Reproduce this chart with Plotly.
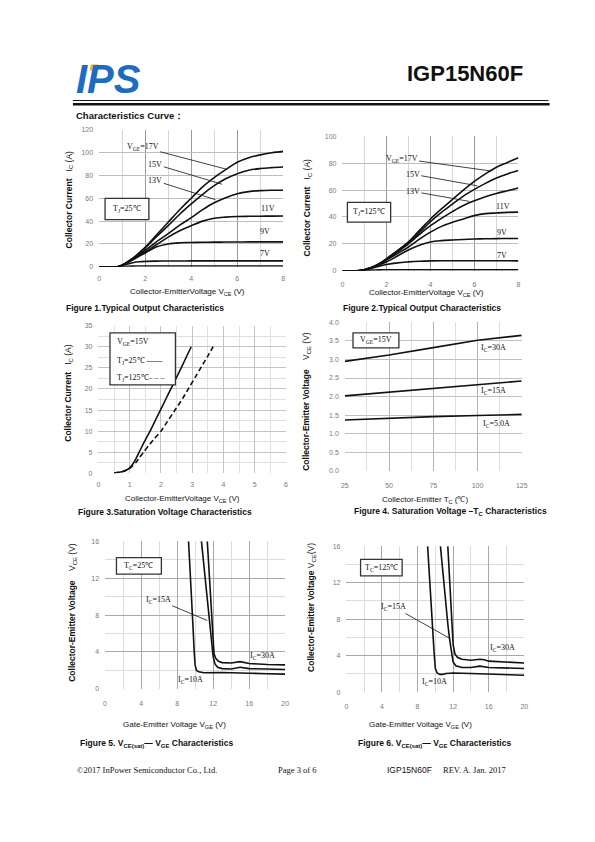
import plotly.graph_objects as go

# page is drawn inside the browser's default 8px body margin
OFF = 8
W, H = 595 - 2 * OFF, 842 - 2 * OFF

# ---------------- DATA ----------------
# Figure 1: typical output characteristics, Tj = 25 C
vce_out = [0, 0.5, 0.8, 1.0, 1.25, 1.5, 1.75, 2.0, 2.5, 3.0, 3.5, 4.0, 4.5, 5.0, 5.5, 6.0, 6.5, 7.0, 7.5, 8.0]
f1_17v = [0, 0, 0.1, 1.5, 4.5, 8, 12.5, 17, 28, 39, 50, 60, 70, 78, 85, 91.5, 95.5, 98, 99.8, 101]
f1_15v = [0, 0, 0.1, 1.5, 4.5, 8, 12, 16.5, 26.5, 36, 46, 55, 63.5, 71, 77, 81.5, 84.5, 86, 86.8, 87.3]
f1_13v = [0, 0, 0.1, 1.5, 4.3, 7.5, 11, 14.5, 22, 29, 36.5, 43, 50, 56, 60.5, 64, 65.8, 66.7, 67, 67]
f1_11v = [0, 0, 0.1, 1.4, 4, 7, 10, 13, 19.5, 26, 31.5, 36, 40, 42.5, 43.5, 44, 44.2, 44.3, 44.4, 44.5]
f1_9v = [0, 0, 0.1, 1.3, 3.8, 6.5, 9.5, 12, 17.5, 20, 21, 21.3, 21.5, 21.6, 21.7, 21.7, 21.8, 21.8, 21.8, 21.8]
f1_7v = [0, 0, 0.1, 1.0, 2.5, 3.8, 4.5, 4.8, 5, 5.1, 5.1, 5.2, 5.2, 5.2, 5.2, 5.2, 5.2, 5.2, 5.2, 5.2]
f1_5v = [0, 0, 0.1, 0.3, 0.5, 0.6, 0.7, 0.7, 0.7, 0.7, 0.7, 0.7, 0.7, 0.7, 0.7, 0.7, 0.7, 0.7, 0.7, 0.7]

# Figure 2: typical output characteristics, Tj = 125 C
f2_17v = [0, 0, 0.2, 0.8, 2, 3.8, 6, 9, 15, 21.5, 30, 38.5, 46, 53, 60, 66.5, 72, 77, 80.5, 84]
f2_15v = [0, 0, 0.2, 0.8, 2, 3.8, 6, 8.7, 14.8, 21, 28.5, 36.5, 43.5, 49.5, 55.5, 60.5, 65, 69, 72, 74.5]
f2_13v = [0, 0, 0.2, 0.8, 2, 3.7, 5.8, 8.4, 14, 20, 27, 33.5, 39, 44, 48.5, 52, 55, 57.5, 59.5, 61.5]
f2_11v = [0, 0, 0.2, 0.8, 2, 3.6, 5.6, 7.9, 12.8, 17.7, 23.5, 28.7, 33, 36, 38.5, 41, 42.5, 43, 43.4, 43.6]
f2_9v = [0, 0, 0.2, 0.8, 1.9, 3.3, 4.9, 6.6, 11, 15.5, 19, 21.4, 22.4, 22.9, 23.3, 23.6, 23.8, 23.9, 24, 24]
f2_7v = [0, 0, 0.2, 0.7, 1.6, 2.7, 3.8, 4.7, 5.9, 6.6, 7.1, 7.4, 7.5, 7.5, 7.5, 7.5, 7.5, 7.5, 7.5, 7.4]
f2_5v = [0, 0, 0.1, 0.3, 0.5, 0.6, 0.7, 0.8, 0.8, 0.8, 0.8, 0.8, 0.8, 0.8, 0.8, 0.8, 0.8, 0.8, 0.8, 0.8]

# Figure 3: saturation voltage characteristics, VGE = 15 V
f3_vce_25 = [0.5, 0.6, 0.7, 0.8, 0.9, 1.0, 1.1, 1.2, 1.3, 1.45, 1.65, 1.85, 2.05, 2.25, 2.45, 2.65, 2.82, 2.97]
f3_ic_25 = [0.1, 0.2, 0.3, 0.5, 0.8, 1.3, 2.2, 3.5, 5, 7.2, 10, 13, 16, 19, 22, 25, 27.7, 30]
f3_vce_125 = [0.5, 0.6, 0.7, 0.8, 0.9, 1.0, 1.1, 1.2, 1.3, 1.44, 1.6, 1.8, 2.0, 2.2, 2.45, 2.7, 2.9, 3.1, 3.3, 3.5, 3.67]
f3_ic_125 = [0.1, 0.2, 0.3, 0.5, 0.8, 1.2, 1.8, 2.6, 3.6, 5, 6.5, 8.3, 10, 12.2, 15, 17.8, 20.3, 22.8, 25.3, 27.8, 30]

# Figure 4: saturation voltage vs case temperature
f4_tc = [25, 50, 75, 100, 125]
f4_30a = [2.95, 3.12, 3.32, 3.52, 3.65]
f4_15a = [2.02, 2.12, 2.23, 2.33, 2.42]
f4_5a = [1.37, 1.42, 1.46, 1.49, 1.52]

# Figure 5: VCE(sat) vs VGE, Tc = 25 C
f5_vge_10a = [9.27, 9.45, 9.6, 9.75, 9.9, 10.0, 10.15, 10.4, 11, 12, 13, 14, 15, 16, 18, 20]
f5_vce_10a = [16, 13, 10, 7, 4, 2.6, 2.0, 1.85, 1.75, 1.8, 1.78, 1.75, 1.75, 1.7, 1.65, 1.6]
f5_vge_15a = [10.7, 10.9, 11.1, 11.3, 11.5, 11.7, 11.85, 12.0, 12.2, 12.5, 13, 14, 15, 16, 18, 20]
f5_vce_15a = [16, 14, 12, 10, 8, 6, 4.8, 3.5, 2.7, 2.35, 2.2, 2.15, 2.35, 2.2, 2.15, 2.1]
f5_vge_30a = [11.35, 11.5, 11.65, 11.8, 11.9, 12.0, 12.1, 12.3, 12.6, 13, 14, 15, 15.5, 16, 18, 20]
f5_vce_30a = [16, 13.5, 11, 8.5, 6.5, 5, 3.8, 3.3, 3.0, 2.85, 2.8, 2.95, 2.85, 2.75, 2.65, 2.6]

# Figure 6: VCE(sat) vs VGE, Tc = 125 C
f6_vge_10a = [9.13, 9.3, 9.5, 9.7, 9.85, 10.0, 10.2, 10.5, 10.8, 11.2, 12, 14, 16, 18, 20]
f6_vce_10a = [16, 13, 10, 7, 4.5, 2.6, 2.1, 1.95, 1.95, 2.05, 2.1, 2.05, 2.0, 1.9, 1.85]
f6_vge_15a = [10.57, 10.8, 11.0, 11.2, 11.4, 11.6, 11.8, 12.0, 12.3, 12.7, 13, 14, 15, 16, 18, 20]
f6_vce_15a = [16, 13.5, 11.5, 9.5, 7.5, 5.8, 4.3, 3.3, 2.9, 2.75, 2.7, 2.7, 2.85, 2.7, 2.65, 2.6]
f6_vge_30a = [11.4, 11.55, 11.7, 11.85, 12.0, 12.2, 12.5, 13, 14, 15, 15.5, 16, 18, 20]
f6_vce_30a = [16, 13, 10, 7.5, 5.2, 4.2, 3.8, 3.6, 3.5, 3.6, 3.55, 3.4, 3.3, 3.2]

# ---------------- HELPERS ----------------
def px(x):
    return (x - OFF) / W

def py(y):
    return 1 - (y - OFF) / H

SANS = "Liberation Sans, Arial, sans-serif"
SERIF = "Liberation Serif, Times New Roman, serif"
CURVE = dict(color="#111111", width=1.6)

fig = go.Figure()

def add_lines(pairs, ax_id, shape="linear", dash=None, smoothing=1.0):
    for xv, yv in pairs:
        ln = dict(CURVE)
        if dash:
            ln["dash"] = dash
        if shape == "spline":
            ln["smoothing"] = smoothing
        ln["shape"] = shape
        fig.add_trace(go.Scatter(x=xv, y=yv, mode="lines", line=ln,
                                 xaxis="x" + ax_id, yaxis="y" + ax_id,
                                 showlegend=False, hoverinfo="skip"))

add_lines([(vce_out, s) for s in [f1_17v, f1_15v, f1_13v, f1_11v, f1_9v, f1_7v, f1_5v]], "", "spline")
add_lines([(vce_out, s) for s in [f2_17v, f2_15v, f2_13v, f2_11v, f2_9v, f2_7v, f2_5v]], "2", "spline")
add_lines([(f3_vce_25, f3_ic_25)], "3", "spline", smoothing=0.6)
add_lines([(f3_vce_125, f3_ic_125)], "3", "spline", dash="5px,3px", smoothing=0.6)
add_lines([(f4_tc, f4_30a), (f4_tc, f4_15a), (f4_tc, f4_5a)], "4")
add_lines([(f5_vge_10a, f5_vce_10a), (f5_vge_15a, f5_vce_15a), (f5_vge_30a, f5_vce_30a)], "5")
add_lines([(f6_vge_10a, f6_vce_10a), (f6_vge_15a, f6_vce_15a), (f6_vge_30a, f6_vce_30a)], "6")

TICKFONT = dict(family=SANS, size=7, color="#7a7a7a")

def xax(l, r, rng, dtick, mdtick, gc, mgc, anchor, tick0=0, standoff=6):
    return dict(domain=[px(l), px(r)], range=rng, dtick=dtick, tick0=tick0,
                showgrid=True, gridcolor=gc, gridwidth=1, zeroline=False, showline=False,
                ticks="", tickfont=TICKFONT, ticklabelstandoff=standoff, anchor=anchor,
                minor=dict(dtick=mdtick, tick0=tick0, showgrid=True, gridcolor=mgc, gridwidth=1),
                fixedrange=True)

def yax(t, b, rng, dtick, mdtick, gc, mgc, anchor, fmt=None, standoff=5):
    d = dict(domain=[py(b), py(t)], range=rng, dtick=dtick, tick0=0,
             showgrid=True, gridcolor=gc, gridwidth=1, zeroline=False, showline=False,
             ticks="", tickfont=TICKFONT, ticklabelstandoff=standoff, anchor=anchor,
             fixedrange=True)
    if mdtick:
        d["minor"] = dict(dtick=mdtick, showgrid=True, gridcolor=mgc, gridwidth=1)
    if fmt:
        d["tickformat"] = fmt
    return d

fig.update_layout(
    xaxis=xax(96.7, 284, [0, 8.001], 2, 1, "#9a9a9a", "#d6d6d6", "y", standoff=6),
    yaxis=yax(126.7, 265, [0, 120.01], 20, None, "#bdbdbd", None, "x"),
    xaxis2=xax(344.3, 523.3, [0, 8.001], 2, 1, "#9a9a9a", "#d6d6d6", "y2", standoff=8),
    yaxis2=yax(133.3, 269, [0, 100.01], 20, None, "#bdbdbd", None, "x2"),
    xaxis3=xax(96, 286.7, [0, 6.001], 1, 0.5, "#c4c4c4", "#e0e0e0", "y3", standoff=6),
    yaxis3=yax(324.3, 473.3, [0, 35.01], 5, 2.5, "#c4c4c4", "#e0e0e0", "x3"),
    xaxis4=xax(346.7, 526.7, [25, 125.01], 25, 12.5, "#b4b4b4", "#dedede", "y4", tick0=25, standoff=9),
    yaxis4=yax(321, 470.7, [0, 4.001], 0.5, None, "#c0c0c0", None, "x4", fmt=".1f"),
    xaxis5=xax(102.7, 286, [0, 20.002], 4, 2, "#a8a8a8", "#dcdcdc", "y5", standoff=9),
    yaxis5=yax(541.7, 690.7, [0, 16.002], 4, 2, "#a8a8a8", "#dcdcdc", "x5"),
    xaxis6=xax(348.3, 529.3, [0, 20.002], 4, 2, "#a8a8a8", "#dcdcdc", "y6", standoff=9),
    yaxis6=yax(546.7, 694, [0, 16.002], 4, 2, "#a8a8a8", "#dcdcdc", "x6"),
)

ann = []
shapes = []

def text(x, y, s, size=8, family=SANS, color="#111111", xanchor="center", bold=False, angle=0, italic=False):
    f = dict(family=family, size=size, color=color)
    if bold:
        f["weight"] = "bold"
    if italic:
        f["style"] = "italic"
    ann.append(dict(xref="paper", yref="paper", x=px(x), y=py(y), text=s, showarrow=False,
                    xanchor=xanchor, yanchor="middle", font=f, textangle=angle))

def lead(tx, ty, hx, hy, s, size=8):
    ann.append(dict(xref="paper", yref="paper", x=px(hx), y=py(hy), text=s, showarrow=True,
                    arrowhead=0, arrowwidth=0.8, arrowcolor="#111111", ax=tx - hx, ay=ty - hy,
                    font=dict(family=SERIF, size=size, color="#111111"), standoff=0, startstandoff=0))

def box(x0, y0, x1, y1):
    shapes.append(dict(type="rect", xref="paper", yref="paper", x0=px(x0), x1=px(x1), y0=py(y1), y1=py(y0),
                       line=dict(color="#333333", width=1.3), fillcolor="white", layer="above"))

NB = "\u00a0"

# header
text(106, 76, "IPS", size=40, family="Liberation Sans Narrow, Liberation Sans, sans-serif",
     color="#1e6cc0", bold=True, italic=True)
shapes.append(dict(type="path", xref="paper", yref="paper",
                   path="M {} {} L {} {} L {} {} L {} {} Z".format(px(88.5), py(61), px(96), py(61),
                                                                   px(94.5), py(67), px(87), py(67)),
                   fillcolor="#f5b400", line=dict(width=0), layer="above"))
text(469, 70.5, "IGP15N60F", size=22, bold=True)
shapes.append(dict(type="line", xref="paper", yref="paper", x0=px(70), x1=px(554), y0=py(97.3), y1=py(97.3),
                   line=dict(color="#111111", width=1)))
shapes.append(dict(type="line", xref="paper", yref="paper", x0=px(70), x1=px(555), y0=py(101), y1=py(101),
                   line=dict(color="#111111", width=2.5)))
text(71, 112, "Characteristics Curve：", size=9.5, bold=True, xanchor="left")

# footer
text(72, 772, "©2017 InPower Semiconductor Co., Ltd.", size=8.5, family=SERIF, xanchor="left")
text(277, 772, "Page 3 of 6", size=8.5, family=SERIF, xanchor="left")
text(388, 772, "IGP15N60F", size=8.5, xanchor="left")
text(445, 772, "REV. A. Jan. 2017", size=8.5, family=SERIF, xanchor="left")

# captions
text(61, 307, "Figure 1.Typical Output Characteristics", size=8.5, bold=True, xanchor="left")
text(343, 307, "Figure 2.Typical Output Characteristics", size=8.5, bold=True, xanchor="left")
text(73, 512, "Figure 3.Saturation Voltage Characteristics", size=8.5, bold=True, xanchor="left")
text(354, 512, "Figure 4. Saturation Voltage –T<sub>C</sub> Characteristics", size=8.5, bold=True, xanchor="left")
text(75, 746, "Figure 5. V<sub>CE(sat)</sub>— V<sub>GE</sub> Characteristics", size=8.5, bold=True, xanchor="left")
text(358, 746, "Figure 6. V<sub>CE(sat)</sub>— V<sub>GE</sub> Characteristics", size=8.5, bold=True, xanchor="left")

# axis titles
xt_vce = "Collector-EmitterVoltage V<sub>CE</sub> (V)"
text(186.7, 290.7, xt_vce, size=8)
text(430, 291.7, xt_vce, size=8)
text(181.7, 499, xt_vce, size=8)
text(428.3, 500, "Collector-Emitter T<sub>C</sub> (℃)", size=8)
text(173.3, 726.7, "Gate-Emitter Voltage V<sub>GE</sub> (V)", size=8)
text(423.3, 727.3, "Gate-Emitter Voltage V<sub>GE</sub> (V)", size=8)

yt_ic = "<b>Collector Current</b>" + NB * 3 + "I<sub>C</sub> (A)"
yt_vce = "<b>Collector-Emitter Voltage</b>" + NB * 4 + "V<sub>CE</sub> (V)"
text(66, 197, yt_ic, size=8.5, angle=-90)
text(308.3, 205, yt_ic, size=8.5, angle=-90)
text(66, 392, yt_ic, size=8.5, angle=-90)
text(308.3, 401, yt_vce, size=8.5, angle=-90)
text(70, 613, yt_vce, size=8.5, angle=-90)
text(313.3, 609, "<b>Collector-Emitter Voltage</b> V<sub>CE</sub>(V)", size=8.5, angle=-90)

# figure 1 labels
lead(142.5, 144.5, 226.7, 166.7, "V<sub>GE</sub>=17V")
lead(155, 161.7, 221.7, 181.7, "15V")
lead(155, 178.3, 215, 197.3, "13V")
text(268.5, 206, "11V", family=SERIF)
text(265, 229.3, "9V", family=SERIF)
text(265, 251.7, "7V", family=SERIF)
box(102.7, 196, 147.3, 217.3)
text(125, 206.7, "T<sub>J</sub>=25℃", family=SERIF)

# figure 2 labels
lead(406, 156, 495, 168.3, "V<sub>GE</sub>=17V")
lead(417, 171.7, 481.7, 183.3, "15V")
lead(417, 189, 473.3, 199, "13V")
text(507.5, 204, "11V", family=SERIF)
text(506.5, 230, "9V", family=SERIF)
text(506.5, 253.3, "7V", family=SERIF)
box(349.3, 200, 393.3, 220)
text(371.3, 210, "T<sub>J</sub>=125℃", family=SERIF)

# figure 3 legend box
box(107.7, 331.7, 174.3, 384)
text(113, 341, "V<sub>GE</sub>=15V", family=SERIF, xanchor="left")
text(113, 359.5, "T<sub>J</sub>=25℃ ——", family=SERIF, xanchor="left")
text(113, 377.5, "T<sub>J</sub>=125℃– – –", family=SERIF, xanchor="left")

# figure 4 labels
box(355, 331.7, 401.7, 346.7)
text(378.3, 339.2, "V<sub>GE</sub>=15V", family=SERIF)
text(483, 347.3, "I<sub>C</sub>=30A", family=SERIF, xanchor="left")
text(483, 390, "I<sub>C</sub>=15A", family=SERIF, xanchor="left")
text(485, 423.3, "I<sub>C</sub>=5.0A", family=SERIF, xanchor="left")

# figure 5 labels
box(114.3, 558.3, 160, 575)
text(137.2, 566.7, "T<sub>C</sub>=25℃", family=SERIF)
lead(157.5, 601, 206.7, 621.7, "I<sub>C</sub>=15A")
text(262.5, 657.3, "I<sub>C</sub>=30A", family=SERIF)
text(189.5, 681.7, "I<sub>C</sub>=10A", family=SERIF)

# figure 6 labels
box(362.7, 560, 405, 576.7)
text(383.8, 568.3, "T<sub>C</sub>=125℃", family=SERIF)
lead(397.5, 608.3, 454, 640, "I<sub>C</sub>=15A")
text(507.5, 649.3, "I<sub>C</sub>=30A", family=SERIF)
text(438, 684, "I<sub>C</sub>=10A", family=SERIF)

fig.update_layout(
    width=W, height=H, autosize=False,
    margin=dict(l=0, r=0, t=0, b=0),
    paper_bgcolor="white", plot_bgcolor="white",
    font=dict(family=SANS, size=8, color="#111111"),
    annotations=ann, shapes=shapes, showlegend=False,
)

fig.write_html("out.html", config={"displayModeBar": False})
